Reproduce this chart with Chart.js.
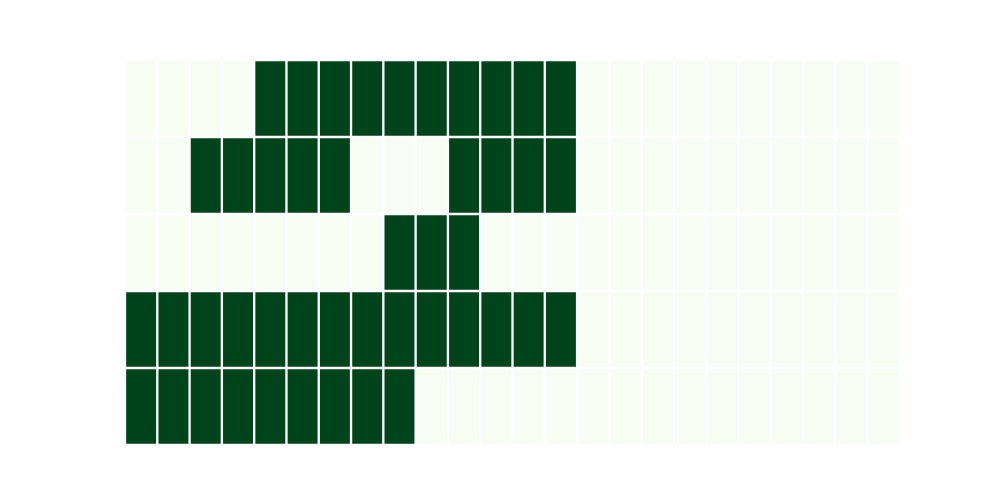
<!DOCTYPE html>
<html>
<head>
<meta charset="utf-8">
<script src="https://cdn.jsdelivr.net/npm/chart.js@4/dist/chart.umd.min.js"></script>
<style>
  html, body { margin: 0; padding: 0; background: #ffffff; }
  #wrap { width: 1000px; height: 500px; }
</style>
</head>
<body>
<div id="wrap"><canvas id="c" width="1000" height="500"></canvas></div>
<script>
// Column categories (24) and row categories (5, top to bottom)
const columns = Array.from({length: 24}, (_, i) => String(i));
const rows = ['r0', 'r1', 'r2', 'r3', 'r4'];

// Cell values per row (top to bottom)
const row0 = [0,0,0,0,1,1,1,1,1,1,1,1,1,1,0,0,0,0,0,0,0,0,0,0];
const row1 = [0,0,1,1,1,1,1,0,0,0,1,1,1,1,0,0,0,0,0,0,0,0,0,0];
const row2 = [0,0,0,0,0,0,0,0,1,1,1,0,0,0,0,0,0,0,0,0,0,0,0,0];
const row3 = [1,1,1,1,1,1,1,1,1,1,1,1,1,1,0,0,0,0,0,0,0,0,0,0];
const row4 = [1,1,1,1,1,1,1,1,1,0,0,0,0,0,0,0,0,0,0,0,0,0,0,0];

const rowValues = [row0, row1, row2, row3, row4];
const lowColor = '#f7fcf5';
const highColor = '#00441b';

// Stacked bars: bottom row first so it sits at the bottom
const datasets = rowValues.slice().reverse().map((vals, k) => ({
  label: rows[rows.length - 1 - k],
  data: vals.map(() => 1),
  cellValues: vals,
  backgroundColor: (ctx) => ctx.dataset.cellValues[ctx.dataIndex] ? highColor : lowColor,
  borderColor: '#ffffff',
  borderWidth: 1.5,
  borderSkipped: false,
  categoryPercentage: 1.0,
  barPercentage: 1.0
}));

new Chart(document.getElementById('c'), {
  type: 'bar',
  data: { labels: columns, datasets },
  options: {
    responsive: false,
    animation: false,
    layout: { padding: { left: 125, right: 100, top: 60, bottom: 55 } },
    plugins: { legend: { display: false }, tooltip: { enabled: false } },
    scales: {
      x: { stacked: true, display: false, offset: true },
      y: { stacked: true, display: false, min: 0, max: rows.length }
    }
  }
});
</script>
</body>
</html>
